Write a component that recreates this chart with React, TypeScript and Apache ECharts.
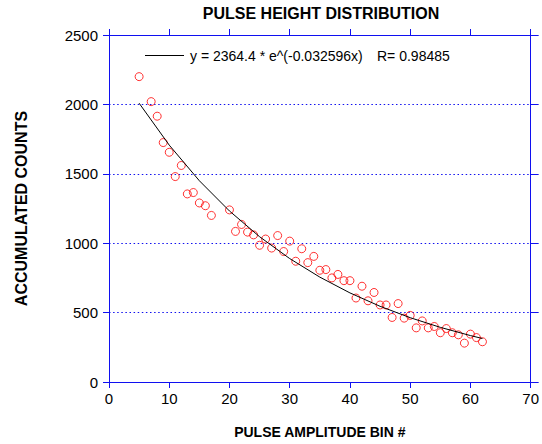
import React, { useEffect, useRef } from "react";
import * as echarts from "echarts";

const binX = [5, 7, 8, 9, 10, 11, 12, 13, 14, 15, 16, 17, 20, 21, 22, 23, 24, 25, 26, 27, 28, 29, 30, 31, 32, 33, 34, 35, 36, 37, 38, 39, 40, 41, 42, 43, 44, 45, 46, 47, 48, 49, 50, 51, 52, 53, 54, 55, 56, 57, 58, 59, 60, 61, 62];
const counts = [2200, 2020, 1915, 1725, 1655, 1480, 1560, 1355, 1365, 1290, 1270, 1200, 1240, 1085, 1135, 1080, 1060, 985, 1030, 965, 1055, 940, 1015, 870, 960, 860, 905, 805, 810, 750, 775, 730, 730, 605, 690, 585, 645, 555, 555, 465, 565, 460, 480, 390, 440, 390, 400, 355, 385, 355, 340, 280, 345, 320, 290];

const fitX = [5, 10, 15, 20, 25, 30, 35, 40, 45, 50, 55, 60, 62];
const fitY = [2008.8, 1706.7, 1450.0, 1232.0, 1046.7, 889.3, 755.5, 641.9, 545.4, 463.4, 393.7, 334.5, 313.4];

const xTicks = { min: 0, max: 70, interval: 10 };
const yTicks = { min: 0, max: 2500, interval: 500 };

const titleText = "PULSE HEIGHT DISTRIBUTION";
const xName = "PULSE AMPLITUDE BIN #";
const yName = "ACCUMULATED COUNTS";
const fitLabel = "y = 2364.4 * e^(-0.032596x)";
const rLabel = "R= 0.98485";

const BLUE = "#1010f0";
const FONT = "Liberation Sans, Arial, sans-serif";

export default function App() {
  const ref = useRef<HTMLDivElement>(null);
  useEffect(() => {
    if (!ref.current) return;
    const chart = echarts.init(ref.current, null, { renderer: "svg" });
    const axisLine = { show: true, onZero: false, lineStyle: { color: BLUE, width: 1 } };
    const label = { color: "#000", fontFamily: FONT, fontSize: 15, formatter: (v: number) => String(v) };
    chart.setOption({
      animation: false,
      backgroundColor: "#fff",
      grid: { left: 109, right: 9, top: 35, bottom: 61, containLabel: false },
      graphic: [
        {
          type: "text",
          x: 321,
          y: 13,
          style: { text: titleText, font: `bold 16px ${FONT}`, fill: "#000", align: "center", verticalAlign: "middle" },
        },
        {
          type: "line",
          shape: { x1: 145, y1: 55.5, x2: 184, y2: 55.5 },
          style: { stroke: "#000", lineWidth: 1 },
        },
        {
          type: "text",
          x: 190,
          y: 56,
          style: { text: fitLabel, font: `14px ${FONT}`, fill: "#000", align: "left", verticalAlign: "middle" },
        },
        {
          type: "text",
          x: 377,
          y: 56,
          style: { text: rLabel, font: `14px ${FONT}`, fill: "#000", align: "left", verticalAlign: "middle" },
        },
      ],
      xAxis: [
        {
          type: "value",
          position: "bottom",
          ...xTicks,
          axisLine,
          axisTick: { show: true, length: 6, lineStyle: { color: BLUE } },
          axisLabel: { ...label, margin: 9 },
          splitLine: { show: false },
          name: xName,
          nameLocation: "middle",
          nameGap: 43,
          nameTextStyle: { color: "#000", fontFamily: FONT, fontSize: 14, fontWeight: "bold" },
        },
        {
          type: "value",
          position: "top",
          ...xTicks,
          axisLine,
          axisTick: { show: true, length: 6, lineStyle: { color: BLUE } },
          axisLabel: { show: false },
          splitLine: { show: false },
        },
      ],
      yAxis: [
        {
          type: "value",
          position: "left",
          ...yTicks,
          axisLine,
          axisTick: { show: true, length: 6, lineStyle: { color: BLUE } },
          axisLabel: { ...label, margin: 11 },
          splitLine: { show: true, lineStyle: { color: BLUE, width: 1, type: [1.5, 2.6] } },
          name: yName,
          nameLocation: "middle",
          nameGap: 80,
          nameRotate: 90,
          nameTextStyle: { color: "#000", fontFamily: FONT, fontSize: 16, fontWeight: "bold" },
        },
        {
          type: "value",
          position: "right",
          ...yTicks,
          axisLine,
          axisTick: { show: true, length: 8, lineStyle: { color: BLUE } },
          axisLabel: { show: false },
          splitLine: { show: false },
        },
      ],
      series: [
        {
          type: "line",
          xAxisIndex: 0,
          yAxisIndex: 0,
          data: fitX.map((x, i) => [x, fitY[i]]),
          showSymbol: false,
          symbol: "none",
          smooth: false,
          lineStyle: { color: "#000", width: 1 },
          silent: true,
        },
        {
          type: "scatter",
          xAxisIndex: 0,
          yAxisIndex: 0,
          data: binX.map((x, i) => [x, counts[i]]),
          symbol: "circle",
          symbolSize: 8,
          itemStyle: { color: "rgba(255,255,255,0)", borderColor: "#ff0000", borderWidth: 1 },
        },
      ],
    });
    return () => chart.dispose();
  }, []);
  return <div ref={ref} style={{ position: "fixed", left: 0, top: 0, width: 542, height: 444 }} />;
}
